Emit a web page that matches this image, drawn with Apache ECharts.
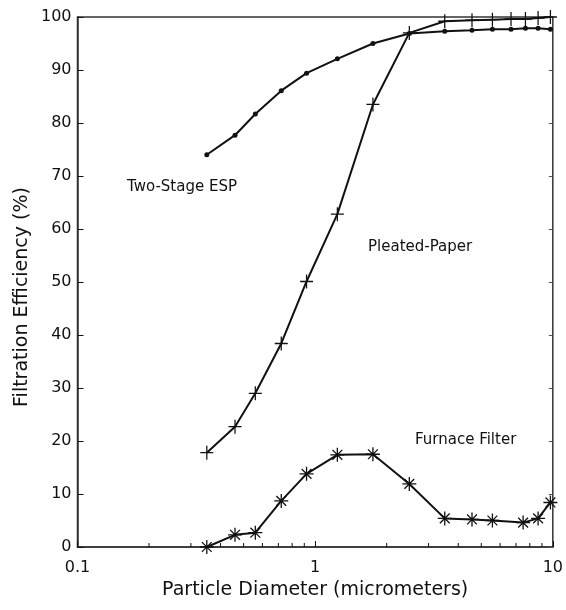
<!DOCTYPE html>
<html>
<head>
<meta charset="utf-8">
<script src="https://cdn.jsdelivr.net/npm/echarts@6/dist/echarts.min.js"></script>
<style>
  html, body { margin: 0; padding: 0; background: #fff; }
  #chart { width: 566px; height: 610px; }
</style>
</head>
<body>
<div id="chart"></div>
<script>
// particle diameters (micrometers)
const espDiameters = [0.35, 0.46, 0.56, 0.72, 0.92, 1.24, 1.75, 2.49, 3.51, 4.57, 5.57, 6.67, 7.67, 8.67, 9.77];
const espEfficiency = [74.0, 77.7, 81.7, 86.1, 89.4, 92.1, 95.0, 96.9, 97.3, 97.5, 97.7, 97.7, 97.9, 97.9, 97.7];

const pleatedDiameters = [0.35, 0.46, 0.56, 0.72, 0.92, 1.24, 1.75, 2.49, 3.51, 4.57, 5.57, 6.67, 7.67, 8.67, 9.77];
const pleatedEfficiency = [17.8, 22.7, 29.0, 38.4, 50.1, 62.8, 83.5, 97.0, 99.2, 99.4, 99.5, 99.6, 99.6, 99.8, 100];

const furnaceDiameters = [0.35, 0.46, 0.56, 0.72, 0.92, 1.24, 1.75, 2.49, 3.51, 4.57, 5.57, 7.5, 8.67, 9.77];
const furnaceEfficiency = [0, 2.3, 2.7, 8.7, 13.8, 17.4, 17.5, 11.9, 5.4, 5.2, 5.0, 4.6, 5.4, 8.4];

const minorTicks = [0.2, 0.3, 0.4, 0.5, 0.6, 0.7, 0.8, 0.9, 2, 3, 4, 5, 6, 7, 8, 9];

const ink = '#111';
const font = 'DejaVu Sans';

const pairs = (xs, ys) => xs.map((x, i) => [x, ys[i]]);

const chart = echarts.init(document.getElementById('chart'));

chart.setOption({
  animation: false,
  grid: {
    left: 77.5, right: 9.5, top: 17, bottom: 63,
    show: true, borderColor: '#333', borderWidth: 1.5,
  },
  xAxis: {
    type: 'log',
    logBase: 10,
    min: 0.1,
    max: 10,
    axisLine: { onZero: false, lineStyle: { color: '#333', width: 1.5 } },
    axisTick: { inside: true, length: 6, lineStyle: { color: ink } },
    axisLabel: { color: ink, fontFamily: font, fontSize: 16, margin: 13 },
    splitLine: { show: false },
    name: 'Particle Diameter (micrometers)',
    nameLocation: 'middle',
    nameGap: 32,
    nameTextStyle: { color: ink, fontFamily: font, fontSize: 19 },
  },
  yAxis: [
    {
      type: 'value',
      min: 0,
      max: 100,
      interval: 10,
      axisLine: { show: true, lineStyle: { color: '#333', width: 1.5 } },
      axisTick: { inside: true, length: 6, lineStyle: { color: ink } },
      axisLabel: { color: ink, fontFamily: font, fontSize: 16, margin: 6 },
      splitLine: { show: false },
    },
    {
      type: 'value',
      position: 'right',
      min: 0,
      max: 100,
      interval: 10,
      axisLine: { show: false },
      axisTick: { inside: true, length: 4, lineStyle: { color: '#555' } },
      axisLabel: { show: false },
      splitLine: { show: false },
    },
  ],
  graphic: [
    {
      type: 'text', x: 127, y: 187,
      style: { text: 'Two-Stage ESP', fill: ink, font: `15px "${font}"`, verticalAlign: 'middle' },
    },
    {
      type: 'text', x: 368, y: 247,
      style: { text: 'Pleated-Paper', fill: ink, font: `15px "${font}"`, verticalAlign: 'middle' },
    },
    {
      type: 'text', x: 415, y: 440,
      style: { text: 'Furnace Filter', fill: ink, font: `15px "${font}"`, verticalAlign: 'middle' },
    },
    {
      type: 'text', x: 22, y: 297, rotation: Math.PI / 2,
      style: {
        text: 'Filtration Efficiency (%)', fill: ink, font: `19px "${font}"`,
        align: 'center', verticalAlign: 'middle',
      },
    },
  ],
  series: [
    {
      name: 'Two-Stage ESP',
      type: 'line',
      data: pairs(espDiameters, espEfficiency),
      symbol: 'circle',
      symbolSize: 5,
      clip: false,
      itemStyle: { color: ink },
      lineStyle: { color: ink, width: 2 },
    },
    {
      name: 'Pleated-Paper',
      type: 'line',
      data: pairs(pleatedDiameters, pleatedEfficiency),
      symbol: 'path://M0,5L10,5M5,0L5,10',
      symbolSize: [13, 14],
      clip: false,
      itemStyle: { color: 'none', borderColor: ink, borderWidth: 1.3 },
      lineStyle: { color: ink, width: 2 },
    },
    {
      name: 'Furnace Filter',
      type: 'line',
      data: pairs(furnaceDiameters, furnaceEfficiency),
      symbol: 'path://M0,5L10,5M5,0L5,10M1.5,1.5L8.5,8.5M1.5,8.5L8.5,1.5',
      symbolSize: 14,
      clip: false,
      itemStyle: { color: 'none', borderColor: ink, borderWidth: 1.3 },
      lineStyle: { color: ink, width: 2 },
    },
    {
      // minor log ticks along the bottom edge
      type: 'custom',
      silent: true,
      data: minorTicks.map((v) => [v, 0]),
      renderItem: (params, api) => {
        const p = api.coord([api.value(0), 0]);
        return {
          type: 'line',
          shape: { x1: p[0], y1: p[1], x2: p[0], y2: p[1] - 4 },
          style: { stroke: ink, lineWidth: 1 },
        };
      },
    },
  ],
});
</script>
</body>
</html>
